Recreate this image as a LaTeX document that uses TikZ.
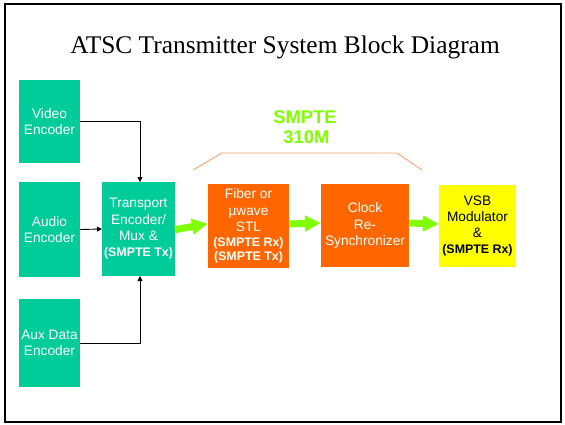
\documentclass[tikz,border=0pt]{standalone}
\usepackage{fontspec}
\setmainfont{Liberation Serif}
\newfontfamily\arial{Liberation Sans}
\usetikzlibrary{arrows.meta}
\definecolor{teal}{HTML}{00CC99}
\definecolor{orng}{HTML}{FF6600}
\definecolor{yel}{HTML}{FFFF00}
\definecolor{lime}{HTML}{80FF00}
\definecolor{salmon}{HTML}{FF9966}
\tikzset{
  blk/.style={rectangle, inner sep=0pt, outer sep=0pt, align=center,
    font=\arial\fontsize{13.7}{16.3}\selectfont},
  enc/.style={blk, fill=teal, text=white, minimum width=61pt},
  ora/.style={blk, fill=orng, text=white},
  conn/.style={line width=0.9pt, -{Triangle[length=5pt,width=5pt]}},
  fat/.style={draw=lime, line width=7pt, -{Triangle[length=16pt,width=15pt]}},
}
\newcommand{\bsm}[1]{{\fontsize{12.4}{14}\selectfont\bfseries #1}}
\begin{document}
\begin{tikzpicture}[x=1pt,y=-1pt]
\useasboundingbox (0,0) rectangle (565,424);
\draw[line width=2pt] (5,3.5) rectangle (561,421.5);
\node[font=\fontsize{25.4}{28}\selectfont, anchor=base] (title) at (285,53) {ATSC Transmitter System Block Diagram};

\node[enc, minimum height=83pt] (v) at (49.5,121.5) {Video\\Encoder};
\node[enc, minimum height=95pt] (a) at (49.5,229.5) {Audio\\Encoder};
\node[enc, minimum height=88pt] (x) at (49.5,343) {Aux Data\\Encoder};
\node[blk, fill=teal, text=white, minimum width=73pt, minimum height=94pt] (t) at (138.5,229) {Transport\\Encoder/\\Mux \&\\\bsm{(SMPTE Tx)}};
\node[ora, minimum width=81pt, minimum height=84pt] (f) at (248.5,226) {Fiber or\\µwave\\STL\\[-1.5pt]\bsm{(SMPTE Rx)}\\[-2pt]\bsm{(SMPTE Tx)}};
\node[ora, minimum width=88pt, minimum height=83pt] (c) at (365,225.5) {Clock\\Re-\\Synchronizer};
\node[blk, fill=yel, text=black, minimum width=77pt, minimum height=82pt] (m) at (477.5,226) {VSB\\Modulator\\\&\\\bsm{(SMPTE Rx)}};

\node[font=\arial\fontsize{18.4}{20}\selectfont\bfseries, text=lime, align=center, anchor=base] (s) at (305,143) {SMPTE\\\hspace*{3pt}310M};

\coordinate (b1) at (193,170);
\coordinate (b2) at (222,153);
\coordinate (b3) at (397,153);
\coordinate (b4) at (422,170);
\draw[salmon, line width=0.8pt] (b1) -- (b2) -- (b3) -- (b4);

\draw[conn] (v.east) -| ([xshift=1.5pt]t.north);
\draw[conn] (a.east) -- (t.west);
\draw[conn] (x.east) -| ([xshift=1.5pt]t.south);

\draw[fat] ([yshift=-0.7pt]t.east) -- ([yshift=2.3pt]f.west);
\draw[fat] ([yshift=2pt]f.east) -- ([yshift=2.5pt]c.west);
\draw[fat] ([yshift=2.5pt]c.east) -- ([yshift=2pt]m.west);
\end{tikzpicture}
\end{document}
